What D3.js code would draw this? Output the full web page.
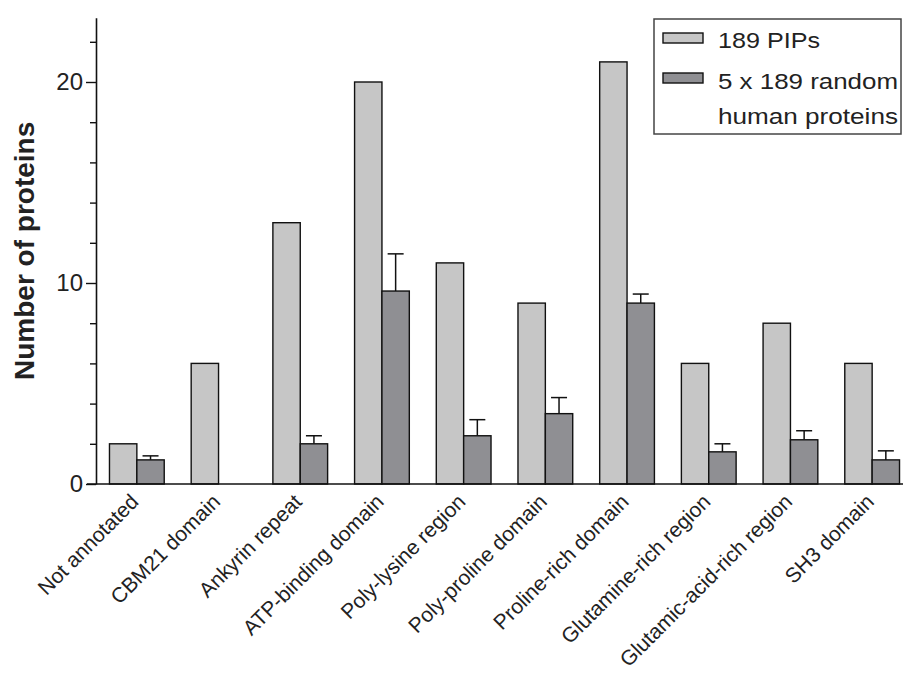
<!DOCTYPE html>
<html>
<head>
<meta charset="utf-8">
<script src="https://cdn.jsdelivr.net/npm/d3@7"></script>
<style>
  body { margin: 0; background: #fff; }
  text { font-family: "Liberation Sans", Arial, sans-serif; fill: #222; }
</style>
</head>
<body>
<svg id="chart" width="903" height="679"></svg>
<script>
const categories = [
  "Not annotated", "CBM21 domain", "Ankyrin repeat", "ATP-binding domain",
  "Poly-lysine region", "Poly-proline domain", "Proline-rich domain",
  "Glutamine-rich region", "Glutamic-acid-rich region", "SH3 domain"
];
const pips = [2, 6, 13, 20, 11, 9, 21, 6, 8, 6];
const randomMean = [1.2, 0, 2.0, 9.6, 2.4, 3.5, 9.0, 1.6, 2.2, 1.2];
const randomErr = [0.2, 0, 0.4, 1.85, 0.8, 0.8, 0.45, 0.4, 0.45, 0.45];
const majorTicks = [0, 10, 20];
const minorTicks = [2, 4, 6, 8, 12, 14, 16, 18, 22];
const seriesNames = ["189 PIPs", "5 x 189 random", "human proteins"];

const svg = d3.select("#chart");
const width = 903;
const margin = { top: 18, left: 96, bottom: 195 };
const zeroY = 484;

const x = d3.scaleBand()
  .domain(categories)
  .range([margin.left, 913])
  .paddingInner(0.33)
  .paddingOuter(0.165);

const sub = d3.scaleBand()
  .domain(["pips", "random"])
  .range([0, x.bandwidth()]);

const y = d3.scaleLinear()
  .domain([0, 23.2])
  .range([zeroY, zeroY - 20.1 * 23.2]);

const lightFill = "#c6c6c6";
const darkFill = "#8f8f93";

// bars
const groups = svg.append("g")
  .selectAll("g")
  .data(categories)
  .join("g")
  .attr("transform", d => `translate(${x(d)},0)`);

groups.append("rect")
  .attr("x", sub("pips"))
  .attr("y", (d, i) => y(pips[i]))
  .attr("width", sub.bandwidth())
  .attr("height", (d, i) => y(0) - y(pips[i]))
  .attr("fill", lightFill)
  .attr("stroke", "#111")
  .attr("stroke-width", 1.4);

groups.filter((d, i) => randomMean[i] > 0)
  .each(function (d) {
    const i = categories.indexOf(d);
    const g = d3.select(this);
    const cx = sub("random") + sub.bandwidth() / 2;
    g.append("line")
      .attr("x1", cx).attr("x2", cx)
      .attr("y1", y(randomMean[i]))
      .attr("y2", y(randomMean[i] + randomErr[i]))
      .attr("stroke", "#111")
      .attr("stroke-width", 1.5);
    g.append("line")
      .attr("x1", cx - 8).attr("x2", cx + 8)
      .attr("y1", y(randomMean[i] + randomErr[i]))
      .attr("y2", y(randomMean[i] + randomErr[i]))
      .attr("stroke", "#111")
      .attr("stroke-width", 1.5);
    g.append("rect")
      .attr("x", sub("random"))
      .attr("y", y(randomMean[i]))
      .attr("width", sub.bandwidth())
      .attr("height", y(0) - y(randomMean[i]))
      .attr("fill", darkFill)
      .attr("stroke", "#111")
      .attr("stroke-width", 1.4);
  });

// y axis
const yAxis = svg.append("g")
  .attr("transform", `translate(${margin.left},0)`)
  .call(d3.axisLeft(y).tickValues(majorTicks).tickSize(10).tickSizeOuter(0).tickPadding(3));
yAxis.select(".domain").attr("stroke", "#111").attr("stroke-width", 1.6);
yAxis.selectAll(".tick line").attr("stroke", "#111").attr("stroke-width", 1.4);
yAxis.selectAll(".tick text")
  .style("font-family", "Liberation Sans, Arial, sans-serif")
  .style("font-size", "24px")
  .attr("fill", "#333");

const yMinor = svg.append("g")
  .attr("transform", `translate(${margin.left},0)`)
  .call(d3.axisLeft(y).tickValues(minorTicks).tickSize(6).tickSizeOuter(0).tickFormat(""));
yMinor.select(".domain").remove();
yMinor.selectAll(".tick line").attr("stroke", "#111").attr("stroke-width", 1.4);

// x axis
const xAxis = svg.append("g")
  .attr("transform", `translate(0,${zeroY})`)
  .call(d3.axisBottom(x).tickSize(0).tickSizeOuter(0));
xAxis.select(".domain").remove();
xAxis.append("line")
  .attr("x1", 87).attr("x2", width)
  .attr("stroke", "#111").attr("stroke-width", 1.6);
xAxis.selectAll(".tick text")
  .style("font-family", "Liberation Sans, Arial, sans-serif")
  .style("font-size", "21px")
  .attr("fill", "#222")
  .attr("text-anchor", "end")
  .attr("x", 0).attr("y", 0).attr("dy", 0)
  .attr("transform", "translate(3,19) rotate(-45)");

// y title
svg.append("text")
  .attr("transform", `translate(34,${(y(0) + y(23.2)) / 2}) rotate(-90)`)
  .attr("text-anchor", "middle")
  .style("font-size", "28px")
  .style("font-weight", "bold")
  .attr("fill", "#222")
  .text("Number of proteins");

// legend
const legend = svg.append("g").attr("transform", "translate(654,19)");
legend.append("rect")
  .attr("width", 247).attr("height", 115)
  .attr("fill", "#fff").attr("stroke", "#444").attr("stroke-width", 1.5);
legend.selectAll("rect.sw")
  .data([lightFill, darkFill])
  .join("rect")
  .attr("class", "sw")
  .attr("x", 9).attr("y", (d, i) => 14 + i * 40)
  .attr("width", 40).attr("height", 10)
  .attr("fill", d => d).attr("stroke", "#111").attr("stroke-width", 1.4);
const legendLen = [102, 180, 180];
legend.selectAll("text")
  .data(seriesNames)
  .join("text")
  .attr("x", 64)
  .attr("y", (d, i) => [29, 70, 105][i])
  .attr("textLength", (d, i) => legendLen[i])
  .attr("lengthAdjust", "spacingAndGlyphs")
  .style("font-size", "22px")
  .attr("fill", "#222")
  .text(d => d);
</script>
</body>
</html>
